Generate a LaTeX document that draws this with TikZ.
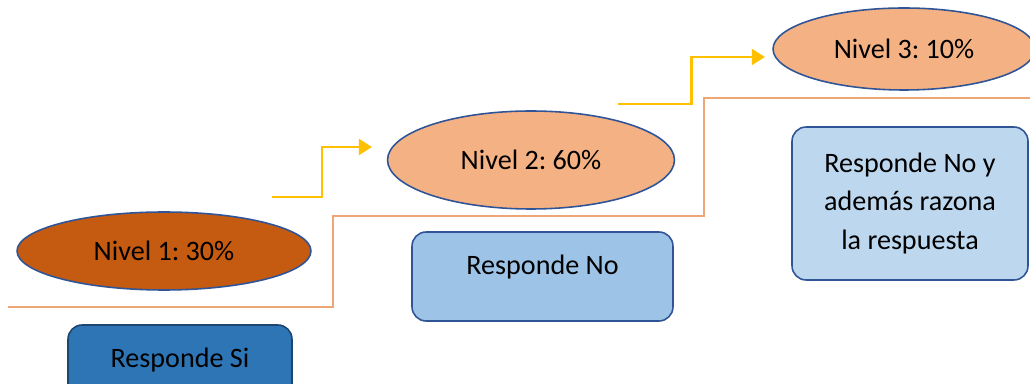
\documentclass[tikz,border=0pt]{standalone}
\usepackage{fontspec}
\setmainfont{Carlito}
\usepackage{xcolor}
\usepackage{tikz}
\usetikzlibrary{shapes.geometric,arrows.meta}
\frenchspacing

\definecolor{naranjaosc}{HTML}{C55A11}
\definecolor{naranjacla}{HTML}{F4B183}
\definecolor{azulosc}{HTML}{2E75B6}
\definecolor{azulmed}{HTML}{9DC3E6}
\definecolor{azulcla}{HTML}{BDD7EE}
\definecolor{borde}{HTML}{2F5597}
\definecolor{escalon}{HTML}{EFA675}
\definecolor{flecha}{HTML}{FFC000}

\begin{document}
\begin{tikzpicture}[x=0.02cm,y=-0.02cm,
    nivel/.style={ellipse,draw=borde,line width=0.9pt,inner sep=0pt,font=\fontsize{16}{22}\selectfont},
    respuesta/.style={rectangle,rounded corners=8pt,draw=borde,line width=0.9pt,inner sep=0pt,align=center,font=\fontsize{16}{22}\selectfont},
    paso/.style={draw=flecha,line width=1.7pt,-{Triangle[length=7.5pt,width=9pt]}}]
        \def\hw{1030};
        \def\hh{384};
        \useasboundingbox (0,0) rectangle (\hw,\hh);

        %escalera%
        \draw[escalon,line width=1.2pt] (8,307) -- (333,307) -- (333,216) -- (704,216) -- (704,98) -- (\hw,98);

        %niveles%
        \node[nivel,fill=naranjaosc,minimum width=5.88cm,minimum height=1.56cm] (n1) at (164,251) {Nivel 1: 30\%};
        \node[nivel,fill=naranjacla,minimum width=5.74cm,minimum height=1.96cm] (n2) at (531,160) {Nivel 2: 60\%};
        \node[nivel,fill=naranjacla,minimum width=5.24cm,minimum height=1.64cm] (n3) at (904,49) {Nivel 3: 10\%};

        %respuestas%
        \node[respuesta,fill=azulosc,draw=azulosc!60!black,text depth=13pt,minimum width=4.48cm,minimum height=1.78cm] (r1) at (180,369.5) {Responde Si};
        \node[respuesta,fill=azulmed,text depth=13pt,minimum width=5.22cm,minimum height=1.78cm] (r2) at (542.5,276.5) {Responde No};
        \node[respuesta,fill=azulcla,minimum width=4.72cm,minimum height=3.06cm] (r3) at (910,203.5) {Responde No y\\además razona\\la respuesta};

        %flechas%
        \coordinate (a1) at (272,197);
        \coordinate (b1) at (372,147);
        \coordinate (a2) at (618,104);
        \coordinate (b2) at (765,57);
        \draw[paso] (a1) -- (322,197) |- (b1);
        \draw[paso] (a2) -- (691,104) |- (b2);
\end{tikzpicture}
\end{document}
